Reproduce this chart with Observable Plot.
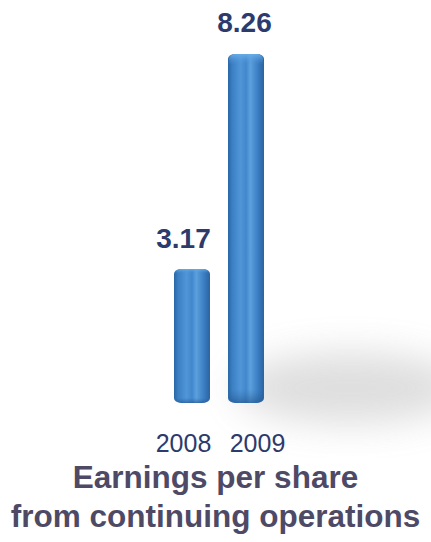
<!DOCTYPE html>
<html>
<head>
<meta charset="utf-8">
<script src="https://cdn.jsdelivr.net/npm/d3@7"></script>
<script src="https://cdn.jsdelivr.net/npm/@observablehq/plot@0.6"></script>
<style>
  html, body { margin: 0; padding: 0; background: #ffffff; }
  #chart { width: 431px; height: 458px; }
  .title {
    font-family: "Liberation Sans", Arial, Helvetica, sans-serif;
    font-weight: bold; font-size: 31.5px; color: #4e4a66;
    text-align: center; line-height: 39px; margin-top: 0px; width: 431px;
    white-space: nowrap;
  }
</style>
</head>
<body>
<div id="chart"></div>
<script>
const years = ["2008", "2009"];
const eps = [3.17, 8.26];
const labels = ["3.17", "8.26"];
const titleLines = ["Earnings per share", "from continuing operations"];

const data = years.map((y, i) => ({year: y, value: eps[i], label: labels[i]}));

const labelStyle = {x: "year", y: "value", text: "label", dy: -31, fontSize: 28, fontWeight: "bold", fill: "#2c3a6c"};
const axisStyle = {tickSize: 0, tickPadding: 31, fontSize: 25, color: "#2c3a6c", label: null};

const plot = Plot.plot({
  width: 431,
  height: 458,
  marginTop: 54,
  marginBottom: 55,
  marginLeft: 0,
  marginRight: 0,
  style: {background: "transparent", fontFamily: "'Liberation Sans', Arial, sans-serif"},
  x: {domain: years, range: [156, 282], paddingInner: 1/3, paddingOuter: 1/3, label: null},
  y: {domain: [0, 8.26], axis: null},
  marks: [
    Plot.barY(data, {x: "year", y: "value", fill: "url(#cyl)", rx: 7, ry: 5}),
    Plot.barY(data, {x: "year", y: "value", fill: "url(#cap)", rx: 7, ry: 5, insetLeft: 1, insetRight: 1}),
    Plot.text(data, {...labelStyle, filter: d => d.year === years[0], dx: -9}),
    Plot.text(data, {...labelStyle, filter: d => d.year === years[1], dx: -2}),
    Plot.axisX([years[0]], {...axisStyle, dx: -9}),
    Plot.axisX([years[1]], {...axisStyle, dx: 11})
  ]
});

const svg = d3.select(plot);
const defs = svg.insert("defs", ":first-child");
const g = defs.append("linearGradient").attr("id", "cyl").attr("x1", 0).attr("x2", 1).attr("y1", 0).attr("y2", 0);
[[0, "#2a66a6"], [0.12, "#3c80c4"], [0.35, "#5096d8"], [0.5, "#4187cb"], [0.62, "#5ca0de"], [0.85, "#387bbf"], [1, "#2a63a0"]]
  .forEach(([o, c]) => g.append("stop").attr("offset", o).attr("stop-color", c));
const cap = defs.append("linearGradient").attr("id", "cap").attr("x1", 0).attr("x2", 0).attr("y1", 0).attr("y2", 1)
  .attr("gradientUnits", "objectBoundingBox");
[[0, "#6aaee8", 0.9], [0.03, "#4f93d6", 0.0], [0.96, "#2e6aa8", 0.0], [1, "#1f4f85", 0.6]]
  .forEach(([o, c, a]) => cap.append("stop").attr("offset", o).attr("stop-color", c).attr("stop-opacity", a));
const blur = defs.append("filter").attr("id", "blur").attr("x", "-50%").attr("y", "-50%").attr("width", "200%").attr("height", "200%");
blur.append("feGaussianBlur").attr("stdDeviation", 18);

// soft floor shadow behind the bars
svg.insert("ellipse", "defs + *")
  .attr("cx", 350).attr("cy", 388).attr("rx", 115).attr("ry", 36)
  .attr("fill", "#8a8a8a").attr("opacity", 0.28).attr("filter", "url(#blur)");

document.getElementById("chart").appendChild(plot);
const t = document.createElement("div");
t.className = "title";
t.innerHTML = titleLines.join("<br>");
document.body.appendChild(t);
</script>
</body>
</html>
